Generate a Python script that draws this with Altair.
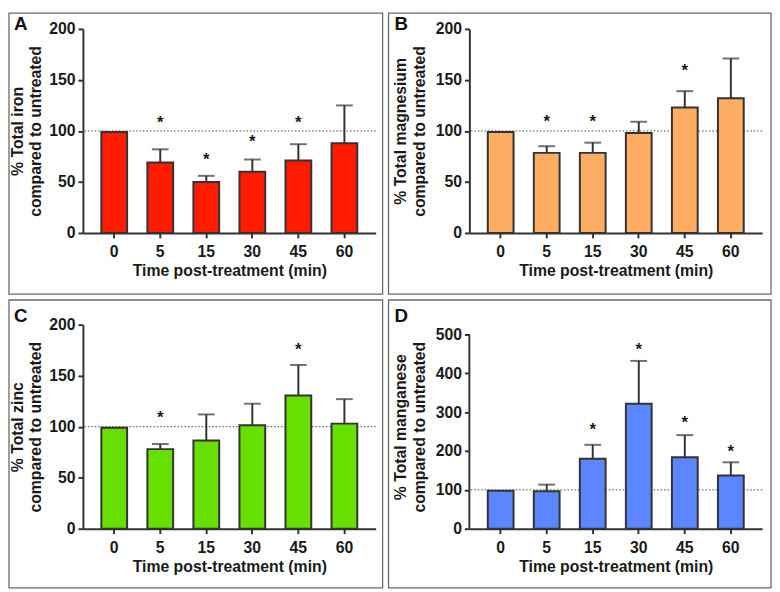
import altair as alt
import pandas as pd

times = ["0", "5", "15", "30", "45", "60"]

iron_mean = [99, 69, 50, 60, 71, 88]
iron_upper = [None, 82, 56, 72, 87, 125]
iron_star = [None, 110, 73, 91, 110, None]

mg_mean = [99, 78.5, 78.5, 98, 123, 132]
mg_upper = [None, 85, 88.5, 109, 139, 171]
mg_star = [None, 111, 111, None, 161, None]

zn_mean = [99, 78, 86.5, 101.5, 130.5, 103]
zn_upper = [None, 83, 112, 122.5, 160.5, 127]
zn_star = [None, 110, None, None, 177, None]

mn_mean = [97.5, 96.5, 180, 322, 184, 137]
mn_upper = [None, 113.5, 216, 432, 241, 171]
mn_star = [None, None, 260, 466, 277, 203]

FONT = "Liberation Sans"
INK = "#333333"
TEXT = "#1a1a1a"
XTITLE = "Time post-treatment (min)"
FS = 16


def panel(letter, ytitle, mean, upper, star, color, ticks, dmax, frame, letter_pos,
          title_pad, own_domain=False):
    df = pd.DataFrame({"time": times, "mean": mean, "upper": upper, "star": star})
    x = alt.X("time:N", sort=times, title=XTITLE,
              scale=alt.Scale(paddingInner=0.44, paddingOuter=0.4),
              axis=alt.Axis(labelAngle=0, labelPadding=6, titlePadding=3))
    yscale = alt.Scale(domain=[0, dmax], nice=False, zero=True)
    yaxis = alt.Axis(values=ticks, labelPadding=3, titlePadding=title_pad,
                     domain=not own_domain, titleLineHeight=19)

    def Y(field):
        return alt.Y(f"{field}:Q", title=ytitle, scale=yscale, axis=yaxis)

    base = alt.Chart(df)
    one = alt.Chart(pd.DataFrame({"k": [0]}))

    fl, ft, fr, fb = frame
    box = one.mark_rect(fillOpacity=0, stroke="#6a6a6a", strokeWidth=1.3).encode(
        x=alt.value(fl), x2=alt.value(fr), y=alt.value(ft), y2=alt.value(fb))
    ref = alt.Chart(pd.DataFrame({"ref": [100]})).mark_rule(
        color="#444444", strokeWidth=1, strokeDash=[1.5, 2]).encode(y=Y("ref"))
    err = base.transform_filter("isValid(datum.upper)").mark_rule(
        color=INK, strokeWidth=2).encode(x=x, y=Y("mean"), y2="upper:Q")
    cap = base.transform_filter("isValid(datum.upper)").mark_tick(
        color=INK, thickness=2, size=17).encode(x=x, y=Y("upper"))
    bars = base.mark_bar(fill=color, stroke=INK, strokeWidth=2).encode(x=x, y=Y("mean"))
    stars = base.transform_filter("isValid(datum.star)").mark_text(
        text="*", font=FONT, fontSize=17, fontWeight="bold", color=TEXT,
        baseline="alphabetic", dy=7).encode(x=x, y=Y("star"))
    lab = one.mark_text(text=letter, font=FONT, fontSize=19, fontWeight="bold",
                        color="#111111", align="left", baseline="top").encode(
        x=alt.value(letter_pos[0]), y=alt.value(letter_pos[1]))
    layers = [box, ref, err, cap, bars, stars, lab]
    if own_domain:
        yline = alt.Chart(pd.DataFrame({"a": [0], "b": [ticks[-1]]})).mark_rule(
            color=INK, strokeWidth=2).encode(x=alt.value(0), y=Y("a"), y2="b:Q")
        layers.insert(1, yline)
    return alt.layer(*layers).properties(width=297, height=207)


pA = panel("A", ["% Total iron", "compared to untreated"], iron_mean, iron_upper, iron_star,
           "#ff1a00", [0, 50, 100, 150, 200], 200, (-75, -16, 304, 269), (-70, -14), 5)
pB = panel("B", ["% Total magnesium", "compared to untreated"], mg_mean, mg_upper, mg_star,
           "#ffad62", [0, 50, 100, 150, 200], 200, (-82, -16, 306, 269), (-76, -14), 8)
pC = panel("C", ["% Total zinc", "compared to untreated"], zn_mean, zn_upper, zn_star,
           "#66e000", [0, 50, 100, 150, 200], 200, (-75, -25, 304, 267), (-70, -18), 5)
pD = panel("D", ["% Total manganese", "compared to untreated"], mn_mean, mn_upper, mn_star,
           "#5b86ff", [0, 100, 200, 300, 400, 500], 525.4, (-82, -25, 306, 267), (-76, -18),
           8, own_domain=True)

chart = alt.concat(pA, pB, pC, pD, columns=2, spacing=4).properties(padding=0).configure_axis(
    labelFont=FONT, labelFontSize=FS, labelFontWeight="bold", labelColor=TEXT,
    titleFont=FONT, titleFontSize=FS, titleFontWeight="bold", titleColor=TEXT,
    domainColor=INK, domainWidth=2, tickColor=INK, tickWidth=2, tickSize=5, grid=False
).configure_view(stroke=None)

chart.save("out.html", embed_options={"renderer": "svg", "actions": False})
